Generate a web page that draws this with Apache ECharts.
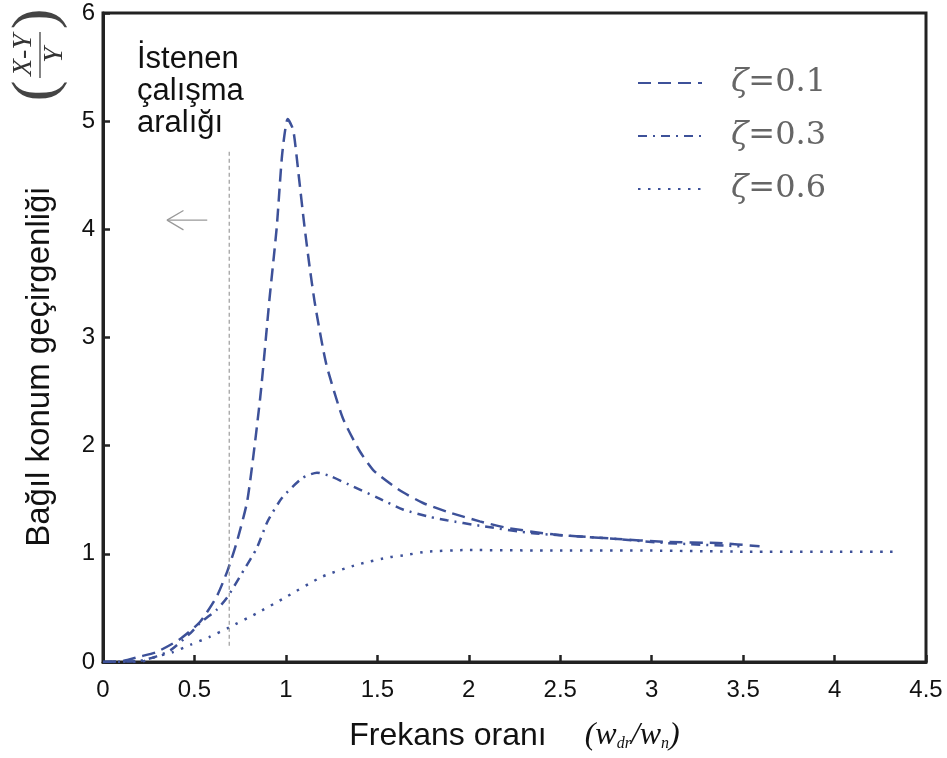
<!DOCTYPE html>
<html>
<head>
<meta charset="utf-8">
<script src="https://cdn.jsdelivr.net/npm/echarts@6/dist/echarts.min.js"></script>
<style>
  html, body { margin: 0; padding: 0; background: #fff; }
  #chart { width: 947px; height: 758px; }
</style>
</head>
<body>
<div id="chart"></div>
<script>
// values
var xTicks = [0, 0.5, 1, 1.5, 2, 2.5, 3, 3.5, 4, 4.5];
var yTicks = [0, 1, 2, 3, 4, 5, 6];

var x01 = [0, 0.11, 0.2, 0.29, 0.42, 0.53, 0.62, 0.68, 0.73, 0.79, 0.86, 0.91, 0.95, 0.98, 1.01, 1.04, 1.07, 1.1, 1.13, 1.16, 1.22, 1.31, 1.40, 1.48, 1.62, 1.75, 1.88, 2.06, 2.21, 2.46, 2.79, 3.08, 3.36, 3.59];
var y01 = [0, 0.01, 0.05, 0.09, 0.21, 0.37, 0.6, 0.84, 1.1, 1.5, 2.45, 3.35, 4.02, 4.7, 5.02, 4.92, 4.5, 4.05, 3.65, 3.3, 2.76, 2.26, 1.96, 1.77, 1.59, 1.47, 1.39, 1.3, 1.24, 1.18, 1.14, 1.11, 1.1, 1.07];

var x03 = [0, 0.2, 0.29, 0.37, 0.48, 0.53, 0.62, 0.68, 0.77, 0.84, 0.9, 0.98, 1.09, 1.17, 1.24, 1.37, 1.50, 1.64, 1.79, 1.88, 2.06, 2.35, 2.71, 3.08, 3.48];
var y03 = [0, 0.01, 0.05, 0.11, 0.27, 0.36, 0.48, 0.6, 0.85, 1.05, 1.3, 1.52, 1.7, 1.75, 1.72, 1.62, 1.52, 1.41, 1.34, 1.31, 1.26, 1.19, 1.15, 1.10, 1.07];

var x06 = [0, 0.2, 0.29, 0.38, 0.48, 0.58, 0.69, 0.84, 1.0, 1.2, 1.39, 1.57, 1.66, 1.77, 1.99, 2.5, 3.0, 3.5, 4.0, 4.33];
var y06 = [0, 0.0, 0.05, 0.09, 0.16, 0.23, 0.32, 0.45, 0.6, 0.79, 0.9, 0.97, 0.99, 1.02, 1.035, 1.03, 1.03, 1.02, 1.02, 1.02];

// "istenen calisma araligi" limit line and arrow
var limitX = [0.69, 0.69];
var limitY = [0.15, 4.72];
var arrowX = [0.57, 0.35];
var arrowY = [4.085, 4.085];
var headX = [0.44, 0.35, 0.44];
var headY = [4.175, 4.085, 3.995];

function pairs(xs, ys) {
  return xs.map(function (x, i) { return [x, ys[i]]; });
}

var blue = '#3d5199';
var myChart = echarts.init(document.getElementById('chart'));

var option = {
  backgroundColor: '#fff',
  animation: false,
  grid: {
    left: 103, right: 21, top: 13, bottom: 96,
    containLabel: false, outerBoundsMode: 'none',
    show: true, borderColor: '#222', borderWidth: 3
  },
  legend: {
    orient: 'vertical',
    left: 632, top: 62,
    itemWidth: 64, itemHeight: 14, itemGap: 21,
    data: ['ζ=0.1', 'ζ=0.3', 'ζ=0.6'],
    itemStyle: { opacity: 0 },
    formatter: function (n) { return '{z|ζ}{v|' + n.slice(1) + '}'; },
    textStyle: {
      padding: [0, 0, 0, 24],
      rich: {
        z: { fontFamily: 'DejaVu Serif', fontStyle: 'italic', fontSize: 32, color: '#666', lineHeight: 32 },
        v: { fontFamily: 'DejaVu Serif', fontSize: 32, color: '#666', lineHeight: 32 }
      }
    }
  },
  xAxis: {
    type: 'value', min: 0, max: 4.5, interval: 0.5,
    axisLine: { lineStyle: { color: '#222', width: 3 } },
    axisTick: { inside: true, length: 7, lineStyle: { color: '#222', width: 2.5 } },
    axisLabel: { margin: 16, fontFamily: 'Liberation Sans', fontSize: 24, color: '#111',
      formatter: function (v) { return xTicks.indexOf(v) >= 0 ? String(v) : ''; } },
    splitLine: { show: false },
    name: '{a|Frekans oranı}{b|(w}{s|dr}{b|/w}{s|n}{b|)}',
    nameLocation: 'middle', nameGap: 58,
    nameTextStyle: {
      rich: {
        a: { fontFamily: 'Liberation Sans', fontSize: 32, color: '#111', padding: [0, 38, 0, 0] },
        b: { fontFamily: 'Liberation Serif', fontStyle: 'italic', fontSize: 32, color: '#111' },
        s: { fontFamily: 'Liberation Serif', fontStyle: 'italic', fontSize: 16, color: '#111', padding: [16, 0, 0, 0] }
      }
    }
  },
  yAxis: {
    type: 'value', min: 0, max: 6, interval: 1,
    axisLine: { show: true, lineStyle: { color: '#222', width: 3 } },
    axisTick: { show: true, inside: true, length: 7, lineStyle: { color: '#222', width: 2.5 } },
    axisLabel: { margin: 8, fontFamily: 'Liberation Sans', fontSize: 24, color: '#111',
      formatter: function (v) { return yTicks.indexOf(v) >= 0 ? String(v) : ''; } },
    splitLine: { show: false }
  },
  series: [
    { name: 'ζ=0.1', type: 'line', symbol: 'none', smooth: 0.2, data: pairs(x01, y01),
      lineStyle: { color: blue, width: 2.5, type: [13, 7] }, itemStyle: { color: blue } },
    { name: 'ζ=0.3', type: 'line', symbol: 'none', smooth: 0.2, data: pairs(x03, y03),
      lineStyle: { color: blue, width: 2.5, type: [9, 6, 2, 6] }, itemStyle: { color: blue } },
    { name: 'ζ=0.6', type: 'line', symbol: 'none', smooth: 0.2, data: pairs(x06, y06),
      lineStyle: { color: blue, width: 2.5, type: [2.5, 7.5] }, itemStyle: { color: blue } },
    { name: 'limit', type: 'line', symbol: 'none', silent: true, data: pairs(limitX, limitY),
      lineStyle: { color: '#888', width: 1, type: [4, 3] } },
    { name: 'arrow', type: 'line', symbol: 'none', silent: true, data: pairs(arrowX, arrowY),
      lineStyle: { color: '#999', width: 1.2 } },
    { name: 'arrowHead', type: 'line', symbol: 'none', silent: true, data: pairs(headX, headY),
      lineStyle: { color: '#999', width: 1.2 } }
  ],
  graphic: [
    {
      type: 'text', left: 137, top: 43, silent: true,
      style: { text: 'İstenen\nçalışma\naralığı', fontFamily: 'Liberation Sans', fontSize: 31,
        lineHeight: 32, fill: '#111' }
    },
    {
      type: 'text', x: 40, y: 367, rotation: Math.PI / 2, silent: true,
      style: { text: 'Bağıl konum geçirgenliği', fontFamily: 'Liberation Sans', fontSize: 33,
        fill: '#111', align: 'center', verticalAlign: 'middle' }
    },
    {
      type: 'group', x: 38, y: 55, rotation: Math.PI / 2, silent: true,
      children: [
        { type: 'text', x: -36, y: 0, style: { text: '(', fontFamily: 'Liberation Serif', fontSize: 62,
          fill: '#444', align: 'center', verticalAlign: 'middle' } },
        { type: 'text', x: 36, y: 0, style: { text: ')', fontFamily: 'Liberation Serif', fontSize: 62,
          fill: '#444', align: 'center', verticalAlign: 'middle' } },
        { type: 'text', x: 0, y: -14, style: { text: 'X-Y', fontFamily: 'Liberation Serif', fontStyle: 'italic',
          fontSize: 28, fill: '#333', align: 'center', verticalAlign: 'middle' } },
        { type: 'line', shape: { x1: -23, y1: 2, x2: 23, y2: 2 }, style: { stroke: '#333', lineWidth: 1.2 } },
        { type: 'text', x: 0, y: 17, style: { text: 'Y', fontFamily: 'Liberation Serif', fontStyle: 'italic',
          fontSize: 28, fill: '#333', align: 'center', verticalAlign: 'middle' } }
      ]
    }
  ]
};

myChart.setOption(option);
</script>
</body>
</html>
